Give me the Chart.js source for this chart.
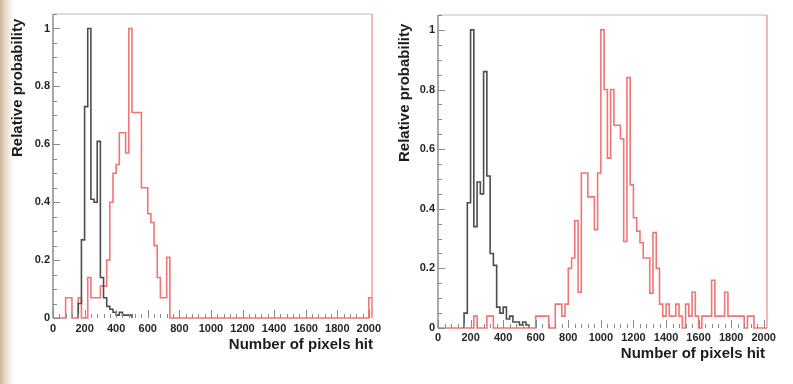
<!DOCTYPE html>
<html lang="en">
<head>
<meta charset="UTF-8">
<title>Relative probability vs number of pixels hit</title>
<script src="https://cdn.jsdelivr.net/npm/chart.js"></script>
<style>
  body {
    margin: 0;
    width: 793px;
    height: 384px;
    overflow: hidden;
    background: linear-gradient(to right, #cbb597 0px, #dfd0bb 4px, #f2ebe1 9px, #ffffff 14px);
  }
  .panel { position: absolute; top: 0; height: 384px; }
  #left { left: 0; width: 396px; }
  #right { left: 396px; width: 397px; }
</style>
</head>
<body>
<div class="panel" id="left"><canvas id="leftChart" width="396" height="384"></canvas></div>
<div class="panel" id="right"><canvas id="rightChart" width="397" height="384"></canvas></div>

<script>
// histogram bins are 20 pixels wide, axis runs 0..2020
const binWidth = 20;
const xTicks = [0, 200, 400, 600, 800, 1000, 1200, 1400, 1600, 1800, 2000];
const xTickLabels = ['0', '200', '400', '600', '800', '1000', '1200', '1400', '1600', '1800', '2000'];
const yTicks = [0, 0.2, 0.4, 0.6, 0.8, 1];
const yTickLabels = ['0', '0.2', '0.4', '0.6', '0.8', '1'];
const xTitle = 'Number of pixels hit';
const yTitle = 'Relative probability';

// left panel
const leftRed = [
  0, 0, 0, 0, 0.07, 0.07, 0, 0, 0.07, 0,
  0, 0.14, 0.07, 0.07, 0.07, 0.11, 0.11, 0.20, 0.40, 0.50,
  0.53, 0.64, 0.64, 0.57, 1.00, 0.71, 0.71, 0.71, 0.45, 0.45,
  0.36, 0.33, 0.25, 0.14, 0.07, 0.07, 0.21, 0, 0, 0,
  0, 0, 0, 0, 0, 0, 0, 0, 0, 0,
  0, 0, 0, 0, 0, 0, 0, 0, 0, 0,
  0, 0, 0, 0, 0, 0, 0, 0, 0, 0,
  0, 0, 0, 0, 0, 0, 0, 0, 0, 0,
  0, 0, 0, 0, 0, 0, 0, 0, 0, 0,
  0, 0, 0, 0, 0, 0, 0, 0, 0, 0,
  0.07
];
const leftGrayStart = 160;
const leftGray = [0.05, 0.27, 0.73, 1.00, 0.41, 0.40, 0.61, 0.14, 0.07, 0.04,
                  0.03, 0.02, 0.01, 0.02, 0.01, 0.01, 0.01];

// right panel
const rightRed = [
  0, 0, 0, 0, 0, 0, 0, 0, 0, 0,
  0, 0.04, 0, 0, 0, 0.04, 0.04, 0, 0, 0,
  0, 0, 0, 0, 0, 0, 0, 0, 0, 0,
  0.04, 0.04, 0.04, 0.04, 0, 0, 0.08, 0.08, 0.04, 0.08,
  0.20, 0.235, 0.36, 0.12, 0.52, 0.52, 0.44, 0.44, 0.33, 0.52,
  1.00, 0.80, 0.57, 0.80, 0.68, 0.68, 0.635, 0.29, 0.84, 0.48,
  0.37, 0.325, 0.286, 0.235, 0.235, 0.117, 0.32, 0.20, 0.08, 0.04,
  0.08, 0.04, 0.04, 0.08, 0.04, 0, 0.08, 0.04, 0.12, 0.04,
  0, 0.04, 0.04, 0.04, 0.16, 0.04, 0.04, 0.04, 0.12, 0.04,
  0.04, 0.04, 0.04, 0.04, 0, 0.04, 0.04, 0, 0, 0,
  0
];
const rightGrayStart = 160;
const rightGray = [0.05, 0.42, 1.00, 0.34, 0.49, 0.45, 0.86, 0.51, 0.25, 0.21,
                   0.07, 0.05, 0.07, 0.03, 0.04, 0.02, 0.02, 0.01, 0.02, 0.01];

const grayColor = '#4d4d4d';
const redColor = 'rgb(240,118,118)';
const labelFont = { family: '"Liberation Sans", Arial, sans-serif', size: 11, weight: 'bold' };

// turn bin contents into points for a step-before line
function histPoints(start, values) {
  const pts = [{ x: start, y: 0 }];
  values.forEach((v, i) => pts.push({ x: start + i * binWidth, y: v }));
  pts.push({ x: start + values.length * binWidth, y: 0 });
  return pts;
}

// ROOT-like frame, inward ticks and axis titles
const rootFrame = {
  id: 'rootFrame',
  afterDatasetsDraw(chart, args, opts) {
    const { ctx, chartArea: a, scales: { x, y } } = chart;
    ctx.save();
    ctx.lineWidth = 1.5;

    ctx.strokeStyle = '#d2d2d2';
    ctx.beginPath(); ctx.moveTo(a.left, a.top); ctx.lineTo(a.right, a.top); ctx.stroke();
    ctx.strokeStyle = 'rgb(242,160,160)';
    ctx.beginPath(); ctx.moveTo(a.right, a.top); ctx.lineTo(a.right, a.bottom); ctx.stroke();
    ctx.strokeStyle = '#8c8c8c';
    ctx.beginPath(); ctx.moveTo(a.left, a.top); ctx.lineTo(a.left, a.bottom); ctx.stroke();

    ctx.lineWidth = 1;
    ctx.strokeStyle = '#8a8a8a';
    ctx.beginPath();
    for (let v = 0; v <= 2000; v += 40) {
      const px = Math.round(x.getPixelForValue(v)) + 0.5;
      const len = v % 200 === 0 ? 8 : 4;
      ctx.moveTo(px, a.bottom); ctx.lineTo(px, a.bottom - len);
    }
    for (let i = 0; i <= 21; i++) {
      const v = i * 0.05;
      const py = Math.round(y.getPixelForValue(v)) + 0.5;
      const len = i % 4 === 0 ? 7 : 4;
      ctx.moveTo(a.left, py); ctx.lineTo(a.left + len, py);
    }
    ctx.stroke();

    ctx.fillStyle = '#1c1c1c';
    ctx.font = 'bold 15px "Liberation Sans", Arial, sans-serif';
    ctx.textAlign = 'right';
    ctx.textBaseline = 'alphabetic';
    ctx.fillText(xTitle, opts.xTitleRight, opts.xTitleBase);

    ctx.translate(opts.yTitleX, opts.yTitleStart);
    ctx.rotate(-Math.PI / 2);
    ctx.textAlign = 'left';
    ctx.textBaseline = 'middle';
    ctx.fillText(yTitle, 0, 0);
    ctx.restore();
  }
};

function makeChart(id, red, grayStart, gray, geo) {
  return new Chart(document.getElementById(id), {
    type: 'line',
    data: {
      datasets: [
        { data: histPoints(grayStart, gray), borderColor: grayColor },
        { data: histPoints(0, red), borderColor: redColor }
      ]
    },
    options: {
      responsive: false,
      animation: false,
      devicePixelRatio: 1,
      layout: { padding: { left: 0, top: geo.top, right: geo.right, bottom: 0 } },
      elements: {
        line: { stepped: 'before', borderWidth: 1.6, fill: false, tension: 0 },
        point: { radius: 0 }
      },
      datasets: { line: { clip: 4 } },
      plugins: {
        legend: { display: false },
        tooltip: { enabled: false },
        rootFrame: geo.titles
      },
      scales: {
        x: {
          type: 'linear',
          min: 0,
          max: 2020,
          afterBuildTicks: s => { s.ticks = xTicks.map(v => ({ value: v })); },
          afterFit: s => { s.height = geo.xHeight; },
          grid: { display: false, drawTicks: false },
          border: { display: false },
          ticks: {
            autoSkip: false, maxRotation: 0, padding: geo.xPad,
            color: '#262626',
            callback: (v, i) => xTickLabels[i],
            font: labelFont
          }
        },
        y: {
          min: 0,
          max: 1.05,
          afterBuildTicks: s => { s.ticks = yTicks.map(v => ({ value: v })); },
          afterFit: s => { s.width = geo.yWidth; },
          grid: { display: false, drawTicks: false },
          border: { display: false },
          ticks: {
            padding: 3,
            color: '#262626',
            callback: (v, i) => yTickLabels[i],
            font: labelFont
          }
        }
      }
    },
    plugins: [rootFrame]
  });
}

makeChart('leftChart', leftRed, leftGrayStart, leftGray, {
  top: 14, right: 24, xHeight: 66, yWidth: 53, xPad: 4,
  titles: { xTitleRight: 373, xTitleBase: 349, yTitleX: 18, yTitleStart: 157 }
});

makeChart('rightChart', rightRed, rightGrayStart, rightGray, {
  top: 15, right: 26, xHeight: 56, yWidth: 42, xPad: 3,
  titles: { xTitleRight: 369, xTitleBase: 358, yTitleX: 9, yTitleStart: 162 }
});
</script>
</body>
</html>
